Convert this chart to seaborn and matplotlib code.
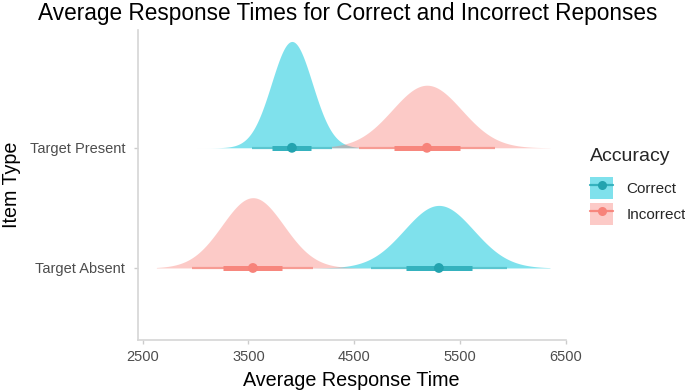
import numpy as np
import pandas as pd
import seaborn as sns
import matplotlib
matplotlib.use("Agg")
import matplotlib.pyplot as plt
from matplotlib.patches import Patch
from matplotlib.lines import Line2D
from matplotlib.legend_handler import HandlerTuple

# ---- data ----
item_types = ["Target Absent", "Target Present"]
accuracy = ["Correct", "Incorrect"]
# mean response time per (item type, accuracy)
mean_correct = [5300, 3911]      # Target Absent, Target Present
mean_incorrect = [3542, 5187]
sd_correct = [328, 193]
sd_incorrect = [292, 328]
slab_range = [2630, 6350]
x_ticks = [2500, 3500, 4500, 5500, 6500]

df = pd.DataFrame({
    "item": item_types * 2,
    "acc": ["Correct"] * 2 + ["Incorrect"] * 2,
    "mean": mean_correct + mean_incorrect,
    "sd": sd_correct + sd_incorrect,
})
df["y"] = df["item"].map({k: i for i, k in enumerate(item_types)})

sns.set_theme(style="white")
plt.rcParams["font.family"] = ["Liberation Sans", "DejaVu Sans"]

fill_col = {"Correct": ("#00C5DB", 0.5), "Incorrect": ("#F8766D", 0.38)}
thin_col = {"Correct": "#5CC6D0", "Incorrect": "#F79C94"}
thick_col = {"Correct": "#35B2BE", "Incorrect": "#F7877E"}
pt_col = {"Correct": "#23A3AF", "Incorrect": "#F7837A"}

fig = plt.figure(figsize=(6.85, 3.9), dpi=100)
ax = fig.add_axes([0.201, 0.128, 0.625, 0.795])

max_h = 0.885
min_sd = df["sd"].min()
for _, r in df.iterrows():
    xs = np.linspace(slab_range[0], slab_range[1], 600)
    dens = np.exp(-0.5 * ((xs - r["mean"]) / r["sd"]) ** 2)
    h = max_h * min_sd / r["sd"]
    c, a = fill_col[r["acc"]]
    ax.fill_between(xs, r["y"], r["y"] + dens * h, color=c, alpha=a, lw=0, zorder=2)

for _, r in df.iterrows():
    m, s, y = r["mean"], r["sd"], r["y"]
    ax.plot([m - 1.96 * s, m + 1.96 * s], [y, y], color=thin_col[r["acc"]], lw=1.6,
            solid_capstyle="butt", zorder=3)
    ax.plot([m - 0.954 * s, m + 0.954 * s], [y, y], color=thick_col[r["acc"]], lw=3.6,
            solid_capstyle="butt", zorder=4)

sns.scatterplot(data=df, x="mean", y="y", hue="acc", palette=pt_col, s=50,
                edgecolor="none", legend=False, ax=ax, zorder=5)

ax.set_xlim(2453, 6500)
ax.set_ylim(-0.6, 1.98)
ax.set_xticks(x_ticks)
ax.set_xticklabels([str(t) for t in x_ticks])
ax.set_yticks([0, 1])
ax.set_yticklabels(item_types)
ax.tick_params(axis="both", labelsize=10.5, labelcolor="#4D4D4D", color="#CCCCCC",
               length=3, width=1, bottom=True, left=True, pad=4)
ax.tick_params(axis="y", pad=6)
for side in ["top", "right"]:
    ax.spines[side].set_visible(False)
for side in ["left", "bottom"]:
    ax.spines[side].set_color("#D6D6D6")
    ax.spines[side].set_linewidth(1.2)
ax.set_xlabel("Average Response Time", fontsize=14.2, color="black", labelpad=5)
ax.set_ylabel("Item Type", fontsize=14.2, color="black", labelpad=6)
ax.grid(False)

fig.text(0.507, 0.966, "Average Response Times for Correct and Incorrect Reponses",
         ha="center", va="center", fontsize=16.3, color="black")

handles = []
for a in accuracy:
    c, al = fill_col[a]
    handles.append((Patch(facecolor=c, alpha=al, edgecolor="none"),
                    Line2D([0], [0], color=thick_col[a], lw=1.6, marker="o",
                           markersize=6.5, markerfacecolor=pt_col[a],
                           markeredgecolor="none")))
leg = fig.legend(handles, accuracy, handler_map={tuple: HandlerTuple(ndivide=1, pad=0)},
                 loc="upper left", bbox_to_anchor=(0.848, 0.645), frameon=False,
                 title="Accuracy", fontsize=11, title_fontsize=14,
                 handlelength=1.5, handleheight=1.8, handletextpad=0.9, labelspacing=0.3,
                 borderaxespad=0.2)
leg._legend_box.align = "left"
leg._legend_box.sep = 9

fig.savefig("out.png", dpi=100)
